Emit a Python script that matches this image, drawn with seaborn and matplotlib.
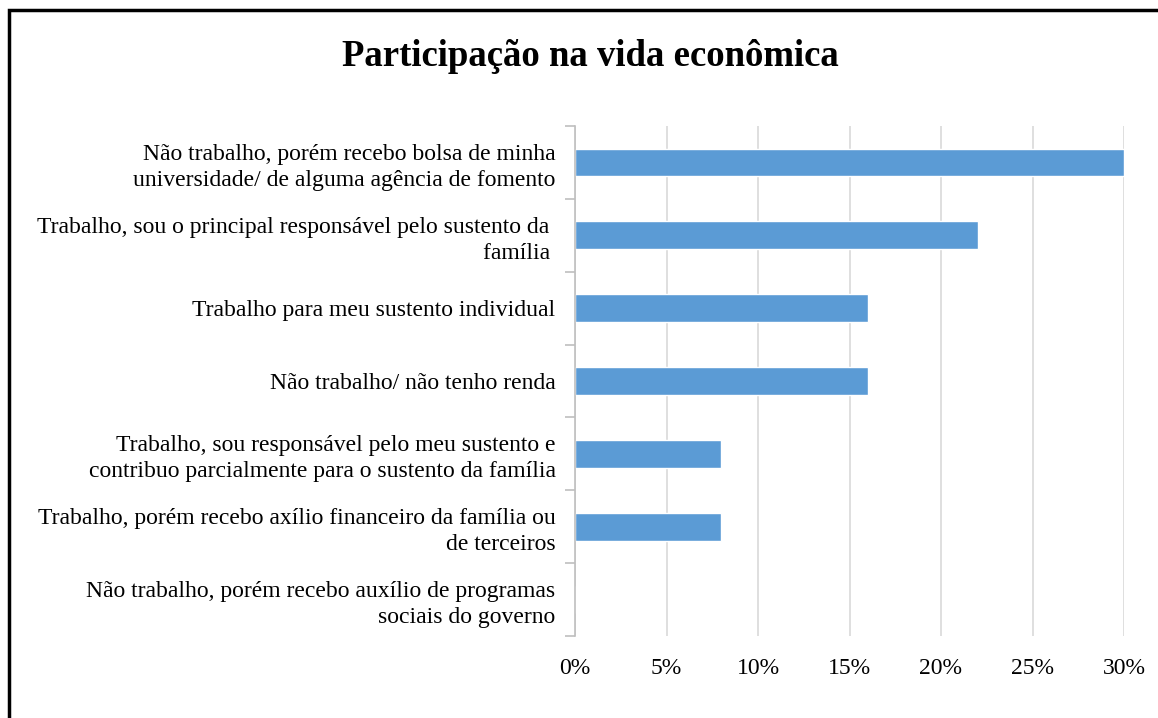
import matplotlib
matplotlib.use('Agg')
import matplotlib.pyplot as plt
import seaborn as sns
import pandas as pd
from matplotlib.patches import Rectangle
from matplotlib.ticker import FuncFormatter, FixedLocator

# categories and values (%)
categorias = [
    'Não trabalho, porém recebo bolsa de minha\nuniversidade/ de alguma agência de fomento',
    'Trabalho, sou o principal responsável pelo sustento da \nfamília ',
    'Trabalho para meu sustento individual',
    'Não trabalho/ não tenho renda',
    'Trabalho, sou responsável pelo meu sustento e\ncontribuo parcialmente para o sustento da família',
    'Trabalho, porém recebo axílio financeiro da família ou\nde terceiros',
    'Não trabalho, porém recebo auxílio de programas\nsociais do governo',
]
valores = [30, 22, 16, 16, 8, 8, 0]
titulo = 'Participação na vida econômica'

df = pd.DataFrame({'categoria': categorias, 'valor': valores})

sns.set_style('white')
plt.rcParams['font.family'] = ['Liberation Serif', 'DejaVu Serif']

fig = plt.figure(figsize=(11.58, 7.18), dpi=100)
ax = fig.add_axes([575 / 1158, 1 - 636 / 718, 549 / 1158, 510 / 718])

sns.barplot(ax=ax, data=df, x='valor', y='categoria', orient='h',
            color='#5B9BD5', saturation=1, width=0.38)

ax.set_xlim(0, 30)
ax.set_ylim(len(categorias) - 0.5, -0.5)
ax.set_xticks(range(0, 31, 5))
ax.xaxis.set_major_formatter(FuncFormatter(lambda v, p: f'{int(v)}%'))
ax.set_xlabel('')
ax.set_ylabel('')

ax.grid(axis='x', color='#d9d9d9', linewidth=1.2)
ax.set_axisbelow(True)
for s in ['top', 'right', 'bottom']:
    ax.spines[s].set_visible(False)
ax.spines['left'].set_color('#bfbfbf')
ax.spines['left'].set_linewidth(1.2)

ax.tick_params(axis='x', length=0, pad=16, labelsize=17, labelcolor='black')
ax.tick_params(axis='y', which='major', length=0, pad=14, labelsize=17, labelcolor='black')
ax.yaxis.set_minor_locator(FixedLocator([i - 0.5 for i in range(len(categorias) + 1)]))
ax.tick_params(axis='y', which='minor', length=7, color='#bfbfbf', width=1.2, left=True)
for lbl in ax.get_yticklabels():
    lbl.set_multialignment('right')
    lbl.set_linespacing(1.32)

fig.text(590 / 1158, 1 - 57 / 718, titulo, ha='center', va='center',
         fontsize=26.5, fontweight='bold', color='black')

fig.patches.append(Rectangle((9 / 1158, -0.1), 2, 1.1 - 10 / 718, fill=False,
                             edgecolor='black', linewidth=2.5,
                             transform=fig.transFigure, figure=fig))

fig.savefig('out.png', dpi=100)
